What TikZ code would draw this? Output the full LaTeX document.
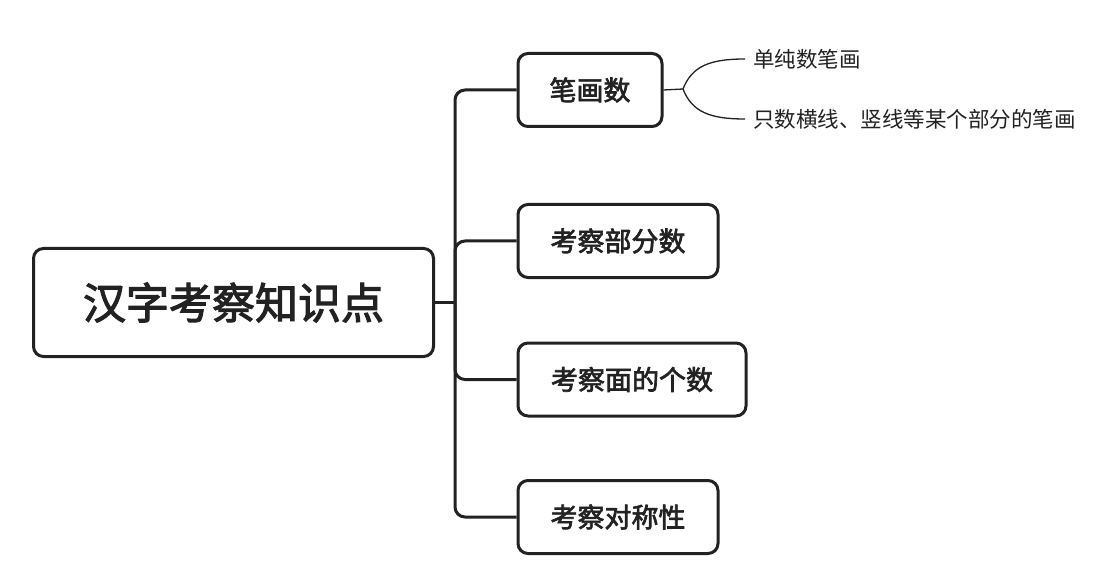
\documentclass[tikz,border=0pt]{standalone}
\usepackage{fontspec}
\newfontfamily\cjk{Noto Sans CJK SC}
\newfontfamily\cjkmid{Noto Sans CJK SC}[FakeBold=2.5]
\usepackage{tikz}
\usetikzlibrary{positioning}
\definecolor{ink}{HTML}{222222}

\begin{document}
\begin{tikzpicture}[x=1pt, y=-1pt,
        box/.style={draw=ink, line width=3pt, rounded corners=10pt, text=ink, inner sep=0pt},
        topic/.style={box, font=\cjkmid\fontsize{27}{32}\selectfont, minimum height=73pt, anchor=west},
        leaf/.style={text=ink, font=\cjk\fontsize{21.5}{26}\selectfont, anchor=west, inner xsep=8pt, inner ysep=2pt},
        trunkline/.style={draw=ink, line width=3pt, rounded corners=10pt},
        twig/.style={draw=ink, line width=1.3pt}]
        \useasboundingbox[fill=white] (0,0) rectangle (1106,588);

        % Root
        \node[box, font=\cjkmid\fontsize{43}{50}\selectfont, minimum width=400pt, minimum height=108pt] (root) at (233.5,302.5) {汉字考察知识点};

        % Topics
        \node[topic, minimum width=144pt] (strokes) at (516.5,90) {笔画数};
        \node[topic, minimum width=200pt] (parts) at (516.5,241) {考察部分数};
        \node[topic, minimum width=228pt] (faces) at (516.5,379.5) {考察面的个数};
        \node[topic, minimum width=200pt] (symmetry) at (516.5,517) {考察对称性};

        % Trunk
        \coordinate (trunk) at (455,302.5);
        \draw[trunkline] (root.east) -- (trunk);
        \draw[trunkline] (strokes.west) -| (trunk) |- (symmetry.west);
        \draw[trunkline] (parts.west) -| (trunk);
        \draw[trunkline] (faces.west) -| (trunk);

        % Leaves of strokes
        \coordinate (fork) at (683,89);
        \node[leaf] (plain) at (745,59) {单纯数笔画};
        \node[leaf] (partial) at (745,119) {只数横线、竖线等某个部分的笔画};
        \draw[twig] (strokes.east) -- (fork);
        \draw[twig] (fork) .. controls (692,66) and (710,59) .. (plain.west);
        \draw[twig] (fork) .. controls (692,112) and (710,119) .. (partial.west);
    \end{tikzpicture}
\end{document}
